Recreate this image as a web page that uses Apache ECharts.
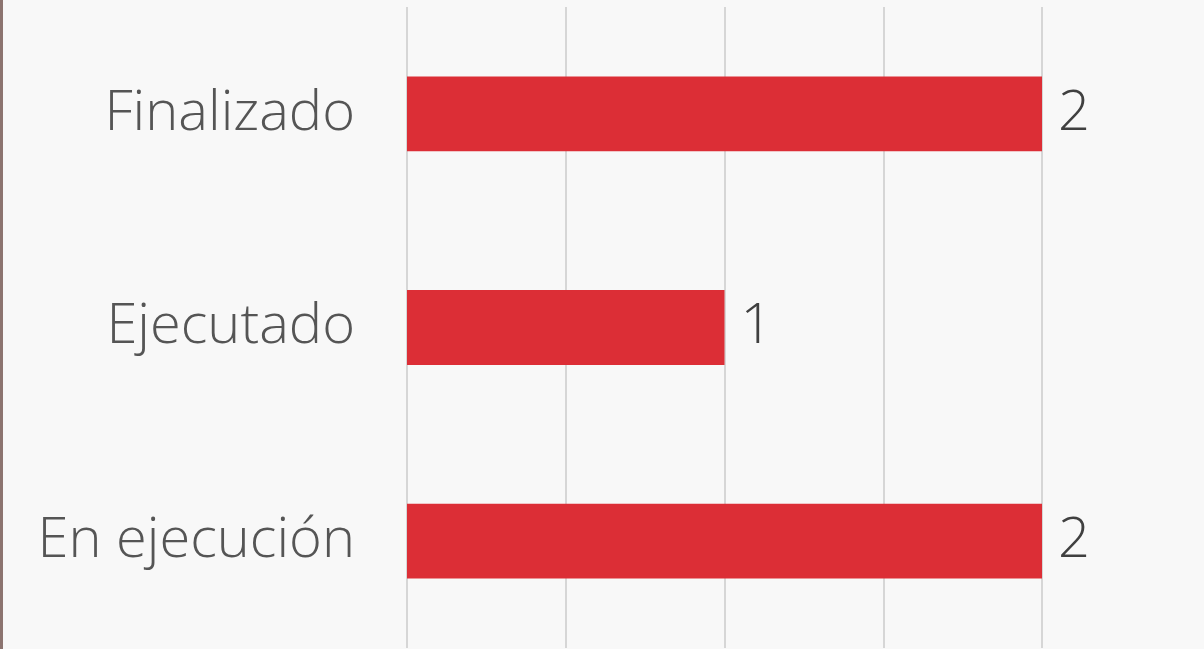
<!DOCTYPE html>
<html>
<head>
<meta charset="utf-8">
<script src="https://cdn.jsdelivr.net/npm/echarts@6/dist/echarts.min.js"></script>
<style>
  html, body { margin: 0; padding: 0; }
  #main { width: 1204px; height: 649px; }
</style>
</head>
<body>
<div id="main"></div>
<script>
// datos del gráfico
var categories = ["En ejecución", "Ejecutado", "Finalizado"];
var values = [2, 1, 2];

var chart = echarts.init(document.getElementById("main"));
chart.setOption({
  backgroundColor: "#f8f8f8",
  graphic: [
    { type: "rect", left: 0, top: 0, shape: { width: 3, height: 649 }, style: { fill: "#8c7470" } }
  ],
  grid: { left: 407, right: 162, top: 7, bottom: 1 },
  xAxis: {
    type: "value",
    min: 0,
    max: 2,
    interval: 0.5,
    axisLabel: { show: false },
    axisLine: { show: false },
    axisTick: { show: false },
    splitLine: { lineStyle: { color: "#d6d6d6", width: 2 } }
  },
  yAxis: {
    type: "category",
    data: categories,
    axisLine: { show: false },
    axisTick: { show: false },
    axisLabel: {
      margin: 52,
      fontSize: 56,
      fontFamily: "Open Sans",
      fontWeight: 300,
      color: "#555555",
      padding: [6, 0, 0, 0]
    }
  },
  series: [{
    type: "bar",
    data: values,
    barWidth: "35%",
    itemStyle: { color: "#dc2e36" },
    label: {
      show: true,
      position: "right",
      distance: 16,
      fontSize: 56,
      fontFamily: "Open Sans",
      fontWeight: 300,
      color: "#404040",
      padding: [6, 0, 0, 0]
    }
  }]
});
</script>
</body>
</html>
